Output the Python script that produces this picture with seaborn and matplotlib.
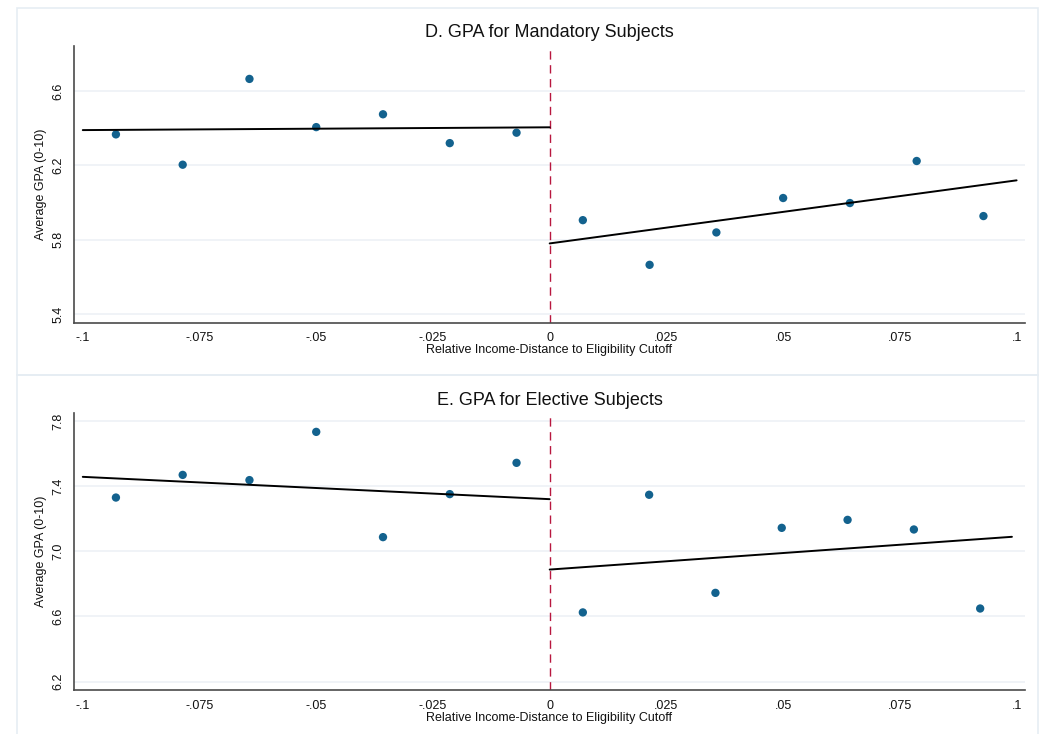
import numpy as np
import pandas as pd
import matplotlib
matplotlib.use("Agg")
import matplotlib.pyplot as plt
from matplotlib.patches import Rectangle
from matplotlib.ticker import FuncFormatter
import seaborn as sns

# ---- binned means, left and right of the cutoff ----
bins_left_x = [-0.0929, -0.0786, -0.0643, -0.0500, -0.0357, -0.0214, -0.0071]
bins_right_top_x = [0.0071, 0.0214, 0.0357, 0.0500, 0.0643, 0.0786, 0.0929]
bins_right_bot_x = [0.0071, 0.0213, 0.0355, 0.0497, 0.0638, 0.0780, 0.0922]

mand_left_y = [6.367, 6.204, 6.665, 6.406, 6.475, 6.320, 6.376]
mand_right_y = [5.906, 5.666, 5.840, 6.025, 5.998, 6.224, 5.928]
elec_left_y = [7.330, 7.469, 7.437, 7.733, 7.087, 7.351, 7.543]
elec_right_y = [6.625, 7.347, 6.745, 7.144, 7.193, 7.134, 6.649]

# ---- linear fits on each side (endpoints) ----
mand_fit_left_x, mand_fit_left_y = [-0.1, 0.0], [6.390, 6.405]
mand_fit_right_x, mand_fit_right_y = [0.0, 0.1], [5.781, 6.120]
elec_fit_left_x, elec_fit_left_y = [-0.1, 0.0], [7.457, 7.320]
elec_fit_right_x, elec_fit_right_y = [0.0, 0.099], [6.888, 7.089]

x_ticks = [-0.1, -0.075, -0.05, -0.025, 0.0, 0.025, 0.05, 0.075, 0.1]
mand_y_ticks = [5.4, 5.8, 6.2, 6.6]
elec_y_ticks = [6.2, 6.6, 7.0, 7.4, 7.8]

titles = ["D. GPA for Mandatory Subjects", "E. GPA for Elective Subjects"]
x_label = "Relative Income-Distance to Eligibility Cutoff"
y_label = "Average GPA (0-10)"

sns.set_style("white")
plt.rcParams["font.family"] = ["Liberation Sans", "DejaVu Sans"]

DOT = "#13628e"
CUT = "#b8173f"
GRID = "#edf1f6"
FRAME = "#e6edf3"
AXC = "#4a4a4a"

W, H = 1042, 734
fig = plt.figure(figsize=(W / 100, H / 100), dpi=100)
fig.patch.set_facecolor("white")

# outer frames of the two graph panels
for (y0, y1) in [(8, 375), (375, 740)]:
    fig.patches.append(Rectangle((16.7 / W, 1 - y1 / H), (1038 - 16.7) / W, (y1 - y0) / H,
                                 transform=fig.transFigure, fill=False,
                                 edgecolor=FRAME, linewidth=1.2, zorder=0))


def tick_fmt(v, pos=None):
    if abs(v) < 1e-12:
        return "0"
    s = f"{v:.3f}".rstrip("0").rstrip(".")
    return s.replace("0.", ".", 1)


def ytick_fmt(v, pos=None):
    return f"{v:.1f}"


panels = [
    dict(top=45.7, bottom=322.7, ylim=(5.355, 6.8435), yticks=mand_y_ticks,
         lx=bins_left_x, ly=mand_left_y, rx=bins_right_top_x, ry=mand_right_y,
         fl=(mand_fit_left_x, mand_fit_left_y), fr=(mand_fit_right_x, mand_fit_right_y),
         title=titles[0]),
    dict(top=413.3, bottom=690.3, ylim=(6.147, 7.847), yticks=elec_y_ticks,
         lx=bins_left_x, ly=elec_left_y, rx=bins_right_bot_x, ry=elec_right_y,
         fl=(elec_fit_left_x, elec_fit_left_y), fr=(elec_fit_right_x, elec_fit_right_y),
         title=titles[1]),
]

left_px, right_px = 73.9, 1025.0
for p in panels:
    ax = fig.add_axes([left_px / W, 1 - p["bottom"] / H,
                       (right_px - left_px) / W, (p["bottom"] - p["top"]) / H])
    ax.set_facecolor("white")
    ax.set_xlim(-0.1019, 0.1018)
    ax.set_ylim(*p["ylim"])

    for yt in p["yticks"]:
        ax.axhline(yt, color=GRID, linewidth=1.2, zorder=0)

    pts = pd.DataFrame({"x": list(p["lx"]) + list(p["rx"]),
                        "y": list(p["ly"]) + list(p["ry"])})
    sns.scatterplot(data=pts, x="x", y="y", ax=ax, color=DOT, s=36,
                    edgecolor="none", zorder=3)

    for fx, fy in (p["fl"], p["fr"]):
        sns.lineplot(x=fx, y=fy, ax=ax, color="black", linewidth=1.4,
                     estimator=None, sort=False, zorder=4)

    ax.axvline(0.0, color=CUT, linewidth=1.0, linestyle=(0, (6, 4)), zorder=2)

    sns.despine(ax=ax, top=True, right=True)
    for side in ("left", "bottom"):
        ax.spines[side].set_color(AXC)
        ax.spines[side].set_linewidth(1.2)

    ax.set_xticks(x_ticks)
    ax.xaxis.set_major_formatter(FuncFormatter(tick_fmt))
    ax.set_yticks(p["yticks"])
    ax.yaxis.set_major_formatter(FuncFormatter(ytick_fmt))
    ax.tick_params(axis="both", direction="out", length=5, width=1.0,
                   color=AXC, labelsize=9, labelcolor="#111111", pad=2)
    for lab in ax.get_yticklabels():
        lab.set_rotation(90)
        lab.set_va("center")

    ax.set_xlabel(x_label, fontsize=9, color="#111111", labelpad=0)
    ax.set_ylabel(y_label, fontsize=9, color="#111111", labelpad=4)
    ax.set_title(p["title"], fontsize=13, color="#111111", pad=6)

fig.savefig("out.png", dpi=100, facecolor="white")
